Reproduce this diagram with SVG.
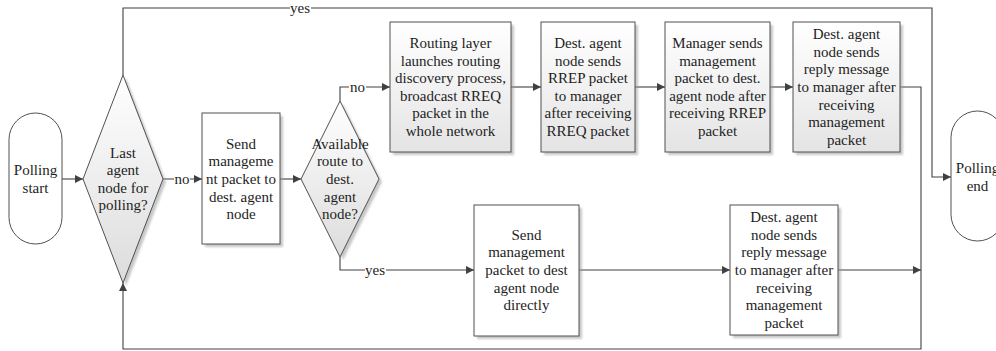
<svg xmlns="http://www.w3.org/2000/svg" width="996" height="351" viewBox="0 0 996 351">
  <defs>
    <linearGradient id="fade" x1="0" y1="0" x2="0" y2="1">
      <stop offset="0" stop-color="#ffffff"/>
      <stop offset="1" stop-color="#e4e4e4"/>
    </linearGradient>
    <linearGradient id="fadeDiamond" x1="0" y1="0" x2="0" y2="1">
      <stop offset="0" stop-color="#ffffff"/>
      <stop offset="1" stop-color="#dcdcdc"/>
    </linearGradient>
    <filter id="soft" x="-10%" y="-10%" width="130%" height="130%">
      <feGaussianBlur stdDeviation="1.2"/>
    </filter>
    <marker id="arrow" viewBox="0 0 10 10" refX="10" refY="5" markerWidth="9" markerHeight="8" markerUnits="userSpaceOnUse" orient="auto">
      <path d="M0,0 L10,5 L0,10 z" fill="#404040"/>
    </marker>
    <style>
      .shape { stroke: #505050; stroke-width: 1; }
      .plain { fill: #ffffff; }
      .shaded { fill: url(#fade); }
      .dshaded { fill: url(#fadeDiamond); }
      .shadow { fill: #9a9a9a; opacity: 0.55; filter: url(#soft); }
      .label { font-family: "Liberation Serif", "Times New Roman", serif; font-size: 15px; fill: #1e1e1e; text-anchor: middle; }
      .wire { fill: none; stroke: #404040; stroke-width: 1.1; }
      .tag { fill: #ffffff; }
    </style>
  </defs>

  <!-- connectors -->
  <g id="connectors">
    <path class="wire" d="M62,179 H83" marker-end="url(#arrow)"/>
    <path class="wire" d="M163,179 H202" marker-end="url(#arrow)"/>
    <path class="wire" d="M280,179 H301" marker-end="url(#arrow)"/>
    <path class="wire" d="M340,101 V87 H390" marker-end="url(#arrow)"/>
    <path class="wire" d="M340,257 V270 H474" marker-end="url(#arrow)"/>
    <path class="wire" d="M511,87 H541" marker-end="url(#arrow)"/>
    <path class="wire" d="M635,87 H665" marker-end="url(#arrow)"/>
    <path class="wire" d="M770,87 H793" marker-end="url(#arrow)"/>
    <path class="wire" d="M900,87 H921 V349 H123 V283" marker-end="url(#arrow)"/>
    <path class="wire" d="M579,270 H730" marker-end="url(#arrow)"/>
    <path class="wire" d="M838,270 H921" marker-end="url(#arrow)"/>
    <path class="wire" d="M123,75 V8 H932 V177 H951" marker-end="url(#arrow)"/>

    <!-- edge labels -->
    <rect class="tag" x="174" y="172" width="16" height="14"/>
    <text class="label" x="182" y="184">no</text>
    <rect class="tag" x="349" y="80" width="17" height="14"/>
    <text class="label" x="357.5" y="92">no</text>
    <rect class="tag" x="365" y="263" width="21" height="14"/>
    <text class="label" x="375" y="275">yes</text>
    <rect class="tag" x="290" y="1" width="21" height="14"/>
    <text class="label" x="300" y="13">yes</text>
  </g>

  <!-- start terminal -->
  <g id="polling-start">
    <rect class="shape plain" x="9" y="113" width="53" height="131" rx="26.5" ry="26.5"/>
    <text class="label"><tspan x="35.5" y="175.2">Polling</tspan><tspan x="35.5" y="192.8">start</tspan></text>
  </g>

  <!-- last agent decision -->
  <g id="last-agent">
    <polygon class="shadow" points="126,78 166,182 126,286 86,182"/>
    <polygon class="shape dshaded" points="123,75 163,179 123,283 83,179"/>
    <text class="label"><tspan x="123" y="157.6">Last</tspan><tspan x="123" y="175.2">agent</tspan><tspan x="123" y="192.8">node for</tspan><tspan x="123" y="210.4">polling?</tspan></text>
  </g>

  <!-- send management packet -->
  <g id="send-packet">
    <rect class="shadow" x="205" y="116" width="78" height="131"/>
    <rect class="shape plain" x="202" y="113" width="78" height="131"/>
    <text class="label"><tspan x="241" y="148.8">Send</tspan><tspan x="241" y="166.4">manageme</tspan><tspan x="241" y="184">nt packet to</tspan><tspan x="241" y="201.6">dest. agent</tspan><tspan x="241" y="219.2">node</tspan></text>
  </g>

  <!-- route available decision -->
  <g id="route-check">
    <polygon class="shadow" points="343,104 382,182 343,260 304,182"/>
    <polygon class="shape dshaded" points="340,101 379,179 340,257 301,179"/>
    <text class="label"><tspan x="340" y="148.8">Available</tspan><tspan x="340" y="166.4">route to</tspan><tspan x="340" y="184">dest.</tspan><tspan x="340" y="201.6">agent</tspan><tspan x="340" y="219.2">node?</tspan></text>
  </g>

  <!-- routing discovery -->
  <g id="route-discovery">
    <rect class="shadow" x="393" y="25" width="121" height="130"/>
    <rect class="shape shaded" x="390" y="22" width="121" height="130"/>
    <text class="label"><tspan x="450.5" y="48">Routing layer</tspan><tspan x="450.5" y="65.6">launches routing</tspan><tspan x="450.5" y="83.2">discovery process,</tspan><tspan x="450.5" y="100.8">broadcast RREQ</tspan><tspan x="450.5" y="118.4">packet in the</tspan><tspan x="450.5" y="136">whole network</tspan></text>
  </g>

  <!-- RREP reply -->
  <g id="rrep-reply">
    <rect class="shadow" x="544" y="25" width="94" height="130"/>
    <rect class="shape shaded" x="541" y="22" width="94" height="130"/>
    <text class="label"><tspan x="588" y="48">Dest. agent</tspan><tspan x="588" y="65.6">node sends</tspan><tspan x="588" y="83.2">RREP packet</tspan><tspan x="588" y="100.8">to manager</tspan><tspan x="588" y="118.4">after receiving</tspan><tspan x="588" y="136">RREQ packet</tspan></text>
  </g>

  <!-- manager sends packet -->
  <g id="manager-send">
    <rect class="shadow" x="668" y="25" width="105" height="130"/>
    <rect class="shape shaded" x="665" y="22" width="105" height="130"/>
    <text class="label"><tspan x="717.5" y="48">Manager sends</tspan><tspan x="717.5" y="65.6">management</tspan><tspan x="717.5" y="83.2">packet to dest.</tspan><tspan x="717.5" y="100.8">agent node after</tspan><tspan x="717.5" y="118.4">receiving RREP</tspan><tspan x="717.5" y="136">packet</tspan></text>
  </g>

  <!-- reply after routing -->
  <g id="reply-routed">
    <rect class="shadow" x="796" y="25" width="107" height="130"/>
    <rect class="shape shaded" x="793" y="22" width="107" height="130"/>
    <text class="label"><tspan x="846.5" y="39.2">Dest. agent</tspan><tspan x="846.5" y="56.8">node sends</tspan><tspan x="846.5" y="74.4">reply message</tspan><tspan x="846.5" y="92">to manager after</tspan><tspan x="846.5" y="109.6">receiving</tspan><tspan x="846.5" y="127.2">management</tspan><tspan x="846.5" y="144.8">packet</tspan></text>
  </g>

  <!-- direct send -->
  <g id="send-direct">
    <rect class="shadow" x="477" y="208" width="105" height="131"/>
    <rect class="shape plain" x="474" y="205" width="105" height="131"/>
    <text class="label"><tspan x="526.5" y="239.8">Send</tspan><tspan x="526.5" y="257.4">management</tspan><tspan x="526.5" y="275">packet to dest</tspan><tspan x="526.5" y="292.6">agent node</tspan><tspan x="526.5" y="310.2">directly</tspan></text>
  </g>

  <!-- reply after direct send -->
  <g id="reply-direct">
    <rect class="shadow" x="733" y="208" width="108" height="130"/>
    <rect class="shape plain" x="730" y="205" width="108" height="130"/>
    <text class="label"><tspan x="784" y="222.2">Dest. agent</tspan><tspan x="784" y="239.8">node sends</tspan><tspan x="784" y="257.4">reply message</tspan><tspan x="784" y="275">to manager after</tspan><tspan x="784" y="292.6">receiving</tspan><tspan x="784" y="310.2">management</tspan><tspan x="784" y="327.8">packet</tspan></text>
  </g>

  <!-- end terminal -->
  <g id="polling-end">
    <rect class="shape plain" x="951" y="111" width="53" height="130" rx="26.5" ry="26.5"/>
    <text class="label"><tspan x="977.5" y="173.2">Polling</tspan><tspan x="977.5" y="190.8">end</tspan></text>
  </g>
</svg>
